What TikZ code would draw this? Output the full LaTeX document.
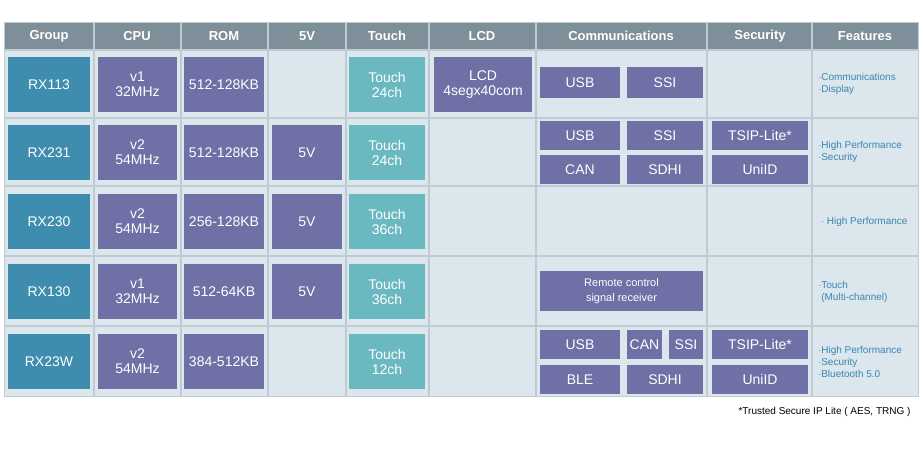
\documentclass[tikz,border=0pt]{standalone}
\usepackage{fontspec}
\setmainfont{Liberation Sans}
\definecolor{headgray}{HTML}{7F8F99}
\definecolor{cellbg}{HTML}{DCE6ED}
\definecolor{gridline}{HTML}{BFCBD3}
\definecolor{grpblue}{HTML}{3F8DAE}
\definecolor{ippurple}{HTML}{6E70A6}
\definecolor{touchteal}{HTML}{6AB9C1}
\definecolor{feattext}{HTML}{3A86B0}
\newcommand{\blk}[7]{\node[blk,fill=#6,minimum width={#4-#2},minimum height={#5-#3}] (#1) at ({(#2+#4)/2},{(#3+#5)/2}) {#7};}
\begin{document}
\begin{tikzpicture}[x=1pt,y=-1pt,
  blk/.style = {inner sep=0pt, text=white, font=\fontsize{14}{15}\selectfont, align=center},
  head/.style = {text=white, font=\bfseries\fontsize{13}{14}\selectfont},
  feat/.style = {text=feattext, font=\fontsize{10}{12}\selectfont, align=left, anchor=west}]
\useasboundingbox (0,0) rectangle (920,450);
\fill[cellbg] (4,22) rectangle (918,396);
\fill[headgray] (4,22) rectangle (918,50);
% grid
\foreach \x in {94,181,268,346,429,536,707,812}
  \draw[gridline,line width=1.5pt] (\x,22) -- (\x,396);
\foreach \y in {50,118,186,256,326}
  \draw[gridline,line width=1.5pt] (4,\y) -- (918,\y);
\draw[gridline] (4,22) rectangle (918,396);
% header
\foreach \x/\t [count=\i] in {49/Group,137/CPU,224/ROM,307/5V,387/Touch,482/LCD,621/Communications,760/Security,865/Features}
  \node[head] (h\i) at (\x,36) {\t};
% RX113
\blk{g1}{8}{57}{90}{112}{grpblue}{RX113}
\blk{c1}{98}{57}{177}{112}{ippurple}{v1\\32MHz}
\blk{m1}{184}{57}{264}{112}{ippurple}{512-128KB}
\blk{t1}{349}{57}{425}{112}{touchteal}{Touch\\24ch}
\blk{l1}{434}{57}{532}{112}{ippurple}{LCD\\4segx40com}
\blk{usb1}{540}{67}{620}{98}{ippurple}{USB}
\blk{ssi1}{627}{67}{703}{98}{ippurple}{SSI}
\node[feat] (f1) at (815,84) {$\cdot$Communications\\$\cdot$Display};
% RX231
\blk{g2}{8}{125}{90}{180}{grpblue}{RX231}
\blk{c2}{98}{125}{177}{180}{ippurple}{v2\\54MHz}
\blk{m2}{184}{125}{264}{180}{ippurple}{512-128KB}
\blk{v2}{272}{125}{342}{180}{ippurple}{5V}
\blk{t2}{349}{125}{425}{180}{touchteal}{Touch\\24ch}
\blk{usb2}{540}{121}{620}{150}{ippurple}{USB}
\blk{ssi2}{627}{121}{703}{150}{ippurple}{SSI}
\blk{can2}{540}{155}{620}{184}{ippurple}{CAN}
\blk{sdhi2}{627}{155}{703}{184}{ippurple}{SDHI}
\blk{tsip2}{712}{121}{808}{150}{ippurple}{TSIP-Lite*}
\blk{uid2}{712}{155}{808}{184}{ippurple}{UniID}
\node[feat] (f2) at (815,152) {$\cdot$High Performance\\$\cdot$Security};
% RX230
\blk{g3}{8}{194}{90}{249}{grpblue}{RX230}
\blk{c3}{98}{194}{177}{249}{ippurple}{v2\\54MHz}
\blk{m3}{184}{194}{264}{249}{ippurple}{256-128KB}
\blk{v3}{272}{194}{342}{249}{ippurple}{5V}
\blk{t3}{349}{194}{425}{249}{touchteal}{Touch\\36ch}
\node[feat] (f3) at (815,222) {\ $\cdot$ High Performance};
% RX130
\blk{g4}{8}{264}{90}{319}{grpblue}{RX130}
\blk{c4}{98}{264}{177}{319}{ippurple}{v1\\32MHz}
\blk{m4}{184}{264}{264}{319}{ippurple}{512-64KB}
\blk{v4}{272}{264}{342}{319}{ippurple}{5V}
\blk{t4}{349}{264}{425}{319}{touchteal}{Touch\\36ch}
\blk{rc4}{540}{271}{703}{311}{ippurple}{\fontsize{11}{14}\selectfont Remote control\\\fontsize{11}{14}\selectfont signal receiver}
\node[feat] (f4) at (815,292) {$\cdot$Touch\\\ (Multi-channel)};
% RX23W
\blk{g5}{8}{334}{90}{389}{grpblue}{RX23W}
\blk{c5}{98}{334}{177}{389}{ippurple}{v2\\54MHz}
\blk{m5}{184}{334}{264}{389}{ippurple}{384-512KB}
\blk{t5}{349}{334}{425}{389}{touchteal}{Touch\\12ch}
\blk{usb5}{540}{330}{620}{359}{ippurple}{USB}
\blk{can5}{627}{330}{662}{359}{ippurple}{CAN}
\blk{ssi5}{669}{330}{703}{359}{ippurple}{SSI}
\blk{ble5}{540}{365}{620}{394}{ippurple}{BLE}
\blk{sdhi5}{627}{365}{703}{394}{ippurple}{SDHI}
\blk{tsip5}{712}{330}{808}{359}{ippurple}{TSIP-Lite*}
\blk{uid5}{712}{365}{808}{394}{ippurple}{UniID}
\node[feat] (f5) at (815,362) {$\cdot$High Performance\\$\cdot$Security\\$\cdot$Bluetooth 5.0};
% footnote
\node[anchor=east, font=\fontsize{10}{12}\selectfont] (note) at (914,412) {*Trusted Secure IP Lite ( AES, TRNG )};
\end{tikzpicture}
\end{document}
